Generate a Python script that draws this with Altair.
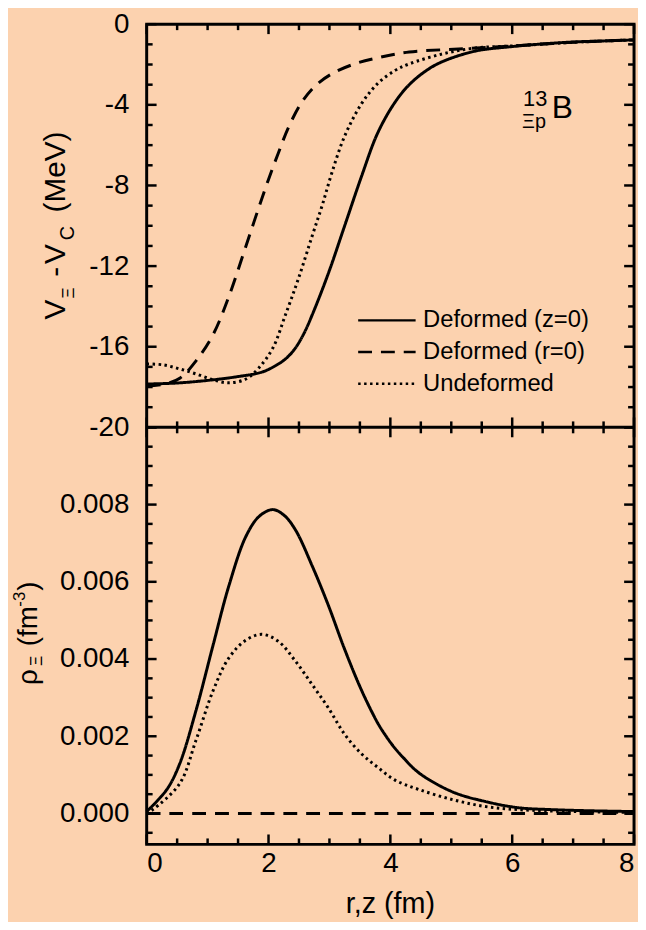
import altair as alt
import pandas as pd

FONT = "Liberation Sans"
BG = "#FCD2AF"
SERIES = ["Deformed (z=0)", "Deformed (r=0)", "Undeformed"]
DASHES = [[1, 0], [14, 9], [2.5, 3.5]]

# ---------------- top panel: V_Xi - V_C (MeV) ----------------
top_z0_r = [0, 0.5, 1.0, 1.5, 1.9, 2.16, 2.3, 2.44, 2.58, 2.72, 2.98, 3.25, 3.53, 3.79, 4.07, 4.31, 4.59, 4.86, 5.4, 5.93, 6.49, 7.02, 7.5, 8.0]
top_z0_v = [-17.85, -17.8, -17.67, -17.48, -17.25, -16.86, -16.55, -16.07, -15.35, -14.4, -12.38, -10.0, -7.52, -5.41, -3.9, -3.0, -2.3, -1.85, -1.33, -1.13, -0.98, -0.88, -0.83, -0.78]

top_r0_r = [0, 0.3, 0.55, 0.81, 1.09, 1.35, 1.63, 1.84, 2.0, 2.16, 2.33, 2.55, 2.77, 3.04, 3.41, 3.79, 4.31, 5.12, 6.0, 7.0, 8.0]
top_r0_v = [-17.95, -17.85, -17.55, -16.7, -15.4, -13.5, -11.0, -9.1, -7.7, -6.4, -5.1, -3.85, -3.05, -2.46, -1.97, -1.67, -1.38, -1.23, -1.08, -0.9, -0.78]

top_und_r = [0, 0.27, 0.54, 0.81, 1.09, 1.35, 1.63, 1.84, 2.07, 2.28, 2.49, 2.72, 2.88, 3.04, 3.25, 3.53, 3.79, 4.07, 4.31, 4.86, 5.4, 6.0, 7.0, 8.0]
top_und_v = [-16.85, -16.9, -17.1, -17.35, -17.64, -17.79, -17.6, -17.05, -16.07, -14.4, -12.63, -10.47, -9.0, -7.37, -5.55, -3.93, -2.95, -2.31, -1.97, -1.47, -1.18, -1.08, -0.9, -0.78]

# ---------------- bottom panel: rho_Xi (fm^-3) ----------------
bot_z0_r = [0, 0.33, 0.54, 0.81, 1.09, 1.35, 1.63, 1.85, 2.07, 2.25, 2.44, 2.72, 2.98, 3.25, 3.53, 3.79, 3.93, 4.07, 4.21, 4.47, 5.02, 5.56, 6.1, 6.65, 7.3, 8.0]
bot_z0_v = [0.00005, 0.00062, 0.00128, 0.00267, 0.00436, 0.0059, 0.00718, 0.0077, 0.00787, 0.00773, 0.00735, 0.0064, 0.0054, 0.00425, 0.00318, 0.00235, 0.002, 0.0017, 0.00145, 0.00105, 0.00056, 0.00031, 0.00015, 0.0001, 0.00007, 0.00005]

bot_r0_r = [0, 2, 4, 6, 8]
bot_r0_v = [0, 0, 0, 0, 0]

bot_und_r = [0, 0.1, 0.54, 0.81, 1.09, 1.35, 1.63, 1.89, 2.16, 2.44, 2.72, 2.98, 3.25, 3.53, 3.79, 4.07, 4.47, 5.02, 5.56, 6.1, 7.0, 8.0]
bot_und_v = [0.0, 0.0001, 0.00077, 0.0019, 0.00318, 0.00403, 0.00449, 0.00464, 0.00446, 0.00395, 0.00333, 0.00274, 0.00205, 0.00154, 0.0012, 0.00087, 0.00062, 0.00036, 0.00018, 0.0001, 0.00005, 0.00003]

x_major = [0, 2, 4, 6, 8]
x_minor = [0.5, 1, 1.5, 2.5, 3, 3.5, 4.5, 5, 5.5, 6.5, 7, 7.5]
top_y_major = [-20, -16, -12, -8, -4, 0]
top_y_minor = [v for v in range(-19, 0) if v % 4 != 0]
top_y_split = [-20]
bot_y_labels = [0.0, 0.002, 0.004, 0.006, 0.008]
bot_y_major = [0.0, 0.002, 0.004, 0.006, 0.008, 0.010]
bot_y_minor = [-0.0005, 0.0005, 0.001, 0.0015, 0.0025, 0.003, 0.0035, 0.0045, 0.005, 0.0055, 0.0065, 0.007, 0.0075, 0.0085, 0.009, 0.0095]


def long_df(parts):
    rows = []
    for name, rs, vs in parts:
        for r, v in zip(rs, vs):
            rows.append({"r": r, "v": v, "series": name})
    return pd.DataFrame(rows)


top_df = long_df([(SERIES[0], top_z0_r, top_z0_v), (SERIES[1], top_r0_r, top_r0_v), (SERIES[2], top_und_r, top_und_v)])
bot_df = long_df([(SERIES[0], bot_z0_r, bot_z0_v), (SERIES[1], bot_r0_r, bot_r0_v), (SERIES[2], bot_und_r, bot_und_v)])

W = 492
H_TOP = 407
H = 828
MAJ, MIN = 10, 6

XS = alt.Scale(domain=[0, 8], nice=False, zero=False)
YS_TOP = alt.Scale(domain=[-20, 0], range=[H_TOP, 0], nice=False, zero=False)
YS_BOT = alt.Scale(domain=[-0.0008, 0.010], range=[H, H_TOP], nice=False, zero=False)

legend = alt.Legend(title=None, orient="none", legendX=212, legendY=283, symbolType="stroke",
                    symbolSize=3364, symbolStrokeWidth=2.5, symbolStrokeColor="black",
                    labelFontSize=24, labelFont=FONT, labelColor="black", clipHeight=32,
                    rowPadding=0, labelOffset=6, padding=0, labelLimit=400)
DASH = alt.StrokeDash("series:N", scale=alt.Scale(domain=SERIES, range=DASHES), legend=legend)


def yaxis(values, expr):
    return alt.Axis(orient="left", values=values, ticks=False, tickSize=0, domain=False, grid=False,
                    title=None, labelFontSize=28, labelFont=FONT, labelColor="black", labelPadding=18,
                    labelExpr=expr)


xaxis = alt.Axis(orient="bottom", values=x_major, ticks=False, tickSize=0, domain=False, grid=False,
                 title=None, labelFontSize=28, labelFont=FONT, labelColor="black", labelPadding=5,
                 labelExpr="'' + datum.value")

top_lines = alt.Chart(top_df).mark_line(color="black", strokeWidth=3, interpolate="catmull-rom").encode(
    x=alt.X("r:Q", scale=XS, axis=None),
    y=alt.Y("v:Q", scale=YS_TOP, axis=yaxis(top_y_major, "'' + datum.value")),
    strokeDash=DASH, detail="series:N")

bot_lines = alt.Chart(bot_df).mark_line(color="black", strokeWidth=3, interpolate="catmull-rom").encode(
    x=alt.X("r:Q", scale=XS, axis=xaxis),
    y=alt.Y("v:Q", scale=YS_BOT, axis=yaxis(bot_y_labels, "format(datum.value, '.3f')")),
    strokeDash=DASH, detail="series:N")


def yticks(vals, ys, x0, x1, width=2.5):
    return alt.Chart(pd.DataFrame({"t": vals})).mark_rule(color="black", strokeWidth=width).encode(
        y=alt.Y("t:Q", scale=ys, axis=None), x=alt.value(x0), x2=alt.value(x1))


def xticks(vals, y0, y1):
    return alt.Chart(pd.DataFrame({"t": vals})).mark_rule(color="black", strokeWidth=2.5).encode(
        x=alt.X("t:Q", scale=XS, axis=None), y=alt.value(y0), y2=alt.value(y1))


def txt(text, x, y, size, angle=0, align="left", baseline="alphabetic"):
    return alt.Chart(alt.Data(values=[{}])).mark_text(
        text=text, fontSize=size, font=FONT, angle=angle, align=align,
        baseline=baseline, color="black").encode(x=alt.value(x), y=alt.value(y))


ticks = [
    yticks(top_y_major, YS_TOP, 0, MAJ), yticks(top_y_minor, YS_TOP, 0, MIN),
    yticks(top_y_major, YS_TOP, W - MAJ, W), yticks(top_y_minor, YS_TOP, W - MIN, W),
    yticks(bot_y_major, YS_BOT, 0, MAJ), yticks(bot_y_minor, YS_BOT, 0, MIN),
    yticks(bot_y_major, YS_BOT, W - MAJ, W), yticks(bot_y_minor, YS_BOT, W - MIN, W),
    yticks(top_y_split, YS_TOP, 0, W, width=3),
    xticks(x_major, 0, MAJ), xticks(x_minor, 0, MIN),
    xticks(x_major, H_TOP - MAJ, H_TOP + MAJ), xticks(x_minor, H_TOP - MIN, H_TOP + MIN),
    xticks(x_major, H - MAJ, H), xticks(x_minor, H - MIN, H),
]

B = H_TOP
texts = [
    txt("V", -82.5, 298, 30, angle=270),
    txt("Ξ", -73, 277, 17, angle=270),
    txt("-", -82.5, 255, 30, angle=270),
    txt("V", -82.5, 242, 30, angle=270),
    txt("C", -73, 218, 20, angle=270),
    txt("(MeV)", -82.5, 190, 30, angle=270),
    txt("13", 380, 83, 22),
    txt("Ξp", 379, 105, 20),
    txt("B", 409, 95, 32),
    txt("ρ", -111, B + 260, 28, angle=270),
    txt("Ξ", -106, B + 241, 16, angle=270),
    txt("(fm", -111, B + 221, 28, angle=270),
    txt("-3", -123, B + 181, 17, angle=270),
    txt(")", -111, B + 165, 28, angle=270),
    txt("r,z (fm)", W / 2, H + 69, 29, align="center"),
]

chart = alt.layer(top_lines, bot_lines, *ticks, *texts).resolve_scale(
    y="independent"
).resolve_axis(x="independent", y="independent").properties(
    width=W, height=H,
    autosize=alt.AutoSizeParams(type="none"),
    padding={"left": 140, "top": 12, "right": 4, "bottom": 74},
).configure(background=BG).configure_view(stroke="black", strokeWidth=3)

chart.save("out.html", embed_options={"renderer": "svg", "actions": False})
